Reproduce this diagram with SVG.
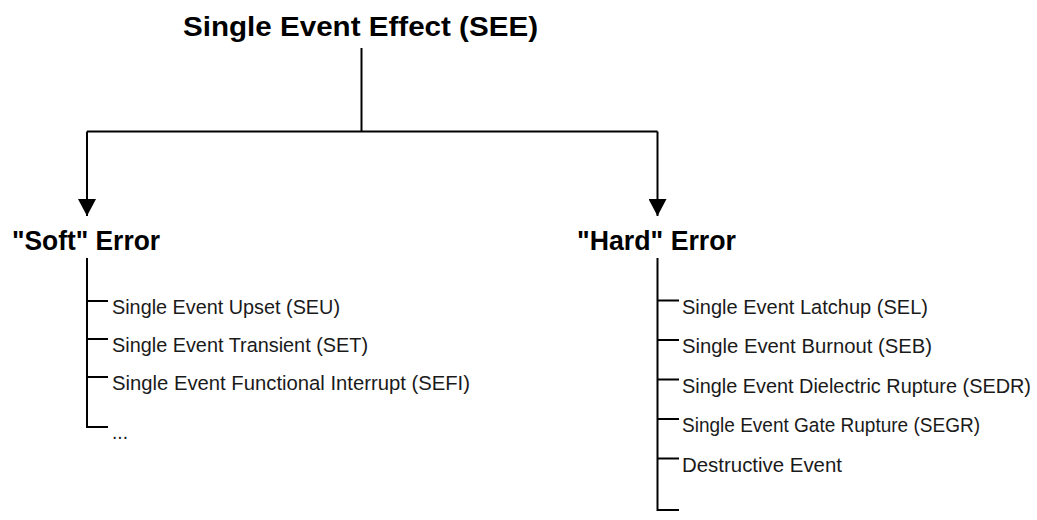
<svg xmlns="http://www.w3.org/2000/svg" width="1037" height="520" viewBox="0 0 1037 520">
  <style>
    .head { font-family: "Liberation Sans", Arial, sans-serif; font-weight: bold; font-size: 28px; fill: #000; }
    .item { font-family: "Liberation Sans", Arial, sans-serif; font-size: 20.5px; fill: #1a1a1a; }
    .item.long { font-size: 19.5px; }
    .wire { fill: none; stroke: #000; stroke-width: 2; }
  </style>
  <defs>
    <marker id="arrow" markerWidth="18" markerHeight="18" refX="17" refY="9" orient="auto" markerUnits="userSpaceOnUse">
      <path d="M0,0 L17,9 L0,18 Z" fill="#000"/>
    </marker>
  </defs>
  <rect width="1037" height="520" fill="#fff"/>

  <!-- connectors -->
  <g id="connectors">
    <path class="wire" d="M361.5,48 V131.5"/>
    <path class="wire" d="M87,131.5 H657.5"/>
    <path class="wire" d="M87,131.5 V216" marker-end="url(#arrow)"/>
    <path class="wire" d="M657.5,131.5 V216" marker-end="url(#arrow)"/>
    <!-- soft error branch -->
    <path class="wire" d="M87,258 V427 H108"/>
    <path class="wire" d="M87,301 H108 M87,339 H108 M87,377 H108"/>
    <!-- hard error branch -->
    <path class="wire" d="M657.5,258 V510 H679"/>
    <path class="wire" d="M657.5,300.5 H679 M657.5,340 H679 M657.5,379.5 H679 M657.5,419 H679 M657.5,458.5 H679"/>
  </g>

  <g id="see">
    <text class="head" x="183" y="36" textLength="355" lengthAdjust="spacingAndGlyphs">Single Event Effect (SEE)</text>
  </g>

  <g id="soft-error">
    <text class="head" x="12" y="250" textLength="148" lengthAdjust="spacingAndGlyphs">"Soft" Error</text>
  </g>
  <g id="soft-items">
    <text class="item" x="112" y="314" textLength="228" lengthAdjust="spacingAndGlyphs">Single Event Upset (SEU)</text>
    <text class="item" x="112" y="352" textLength="256" lengthAdjust="spacingAndGlyphs">Single Event Transient (SET)</text>
    <text class="item" x="112" y="390" textLength="358" lengthAdjust="spacingAndGlyphs">Single Event Functional Interrupt (SEFI)</text>
    <text class="item" x="112" y="439" textLength="16" lengthAdjust="spacingAndGlyphs">...</text>
  </g>

  <g id="hard-error">
    <text class="head" x="577" y="250" textLength="159" lengthAdjust="spacingAndGlyphs">"Hard" Error</text>
  </g>
  <g id="hard-items">
    <text class="item" x="682" y="314" textLength="246" lengthAdjust="spacingAndGlyphs">Single Event Latchup (SEL)</text>
    <text class="item" x="682" y="353" textLength="250" lengthAdjust="spacingAndGlyphs">Single Event Burnout (SEB)</text>
    <text class="item long" x="682" y="393" textLength="349" lengthAdjust="spacingAndGlyphs">Single Event Dielectric Rupture (SEDR)</text>
    <text class="item" x="682" y="432" textLength="298" lengthAdjust="spacingAndGlyphs">Single Event Gate Rupture (SEGR)</text>
    <text class="item" x="682" y="472" textLength="160" lengthAdjust="spacingAndGlyphs">Destructive Event</text>
  </g>
</svg>
